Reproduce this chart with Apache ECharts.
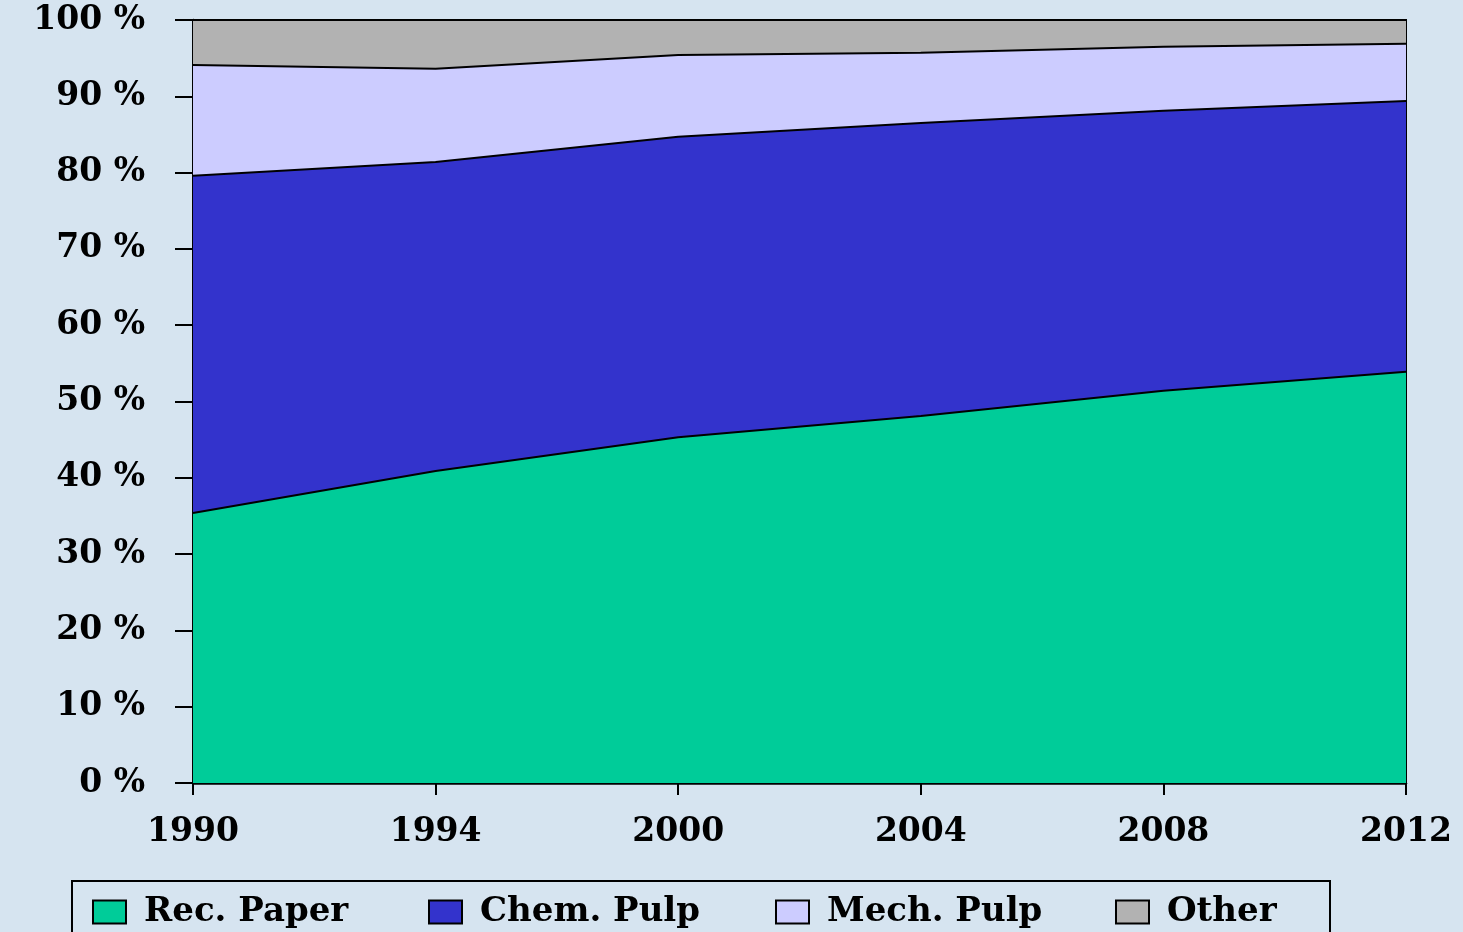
<!DOCTYPE html>
<html>
<head>
<meta charset="utf-8">
<script src="https://cdn.jsdelivr.net/npm/echarts@6/dist/echarts.min.js"></script>
<style>
  html, body { margin: 0; padding: 0; background: #d6e4f0; }
  #chart { width: 1463px; height: 932px; }
</style>
</head>
<body>
<div id="chart"></div>
<script>
// years on the x axis
var years = ['1990', '1994', '2000', '2004', '2008', '2012']
// share of each fibre source, in %
var recPaper = [35.4, 40.9, 45.3, 48.1, 51.4, 53.9]
var chemPulp = [44.2, 40.5, 39.4, 38.4, 36.7, 35.5]
var mechPulp = [14.5, 12.2, 10.7, 9.2, 8.4, 7.5]
var other = [5.9, 6.4, 4.6, 4.3, 3.5, 3.1]
var names = ['Rec. Paper', 'Chem. Pulp', 'Mech. Pulp', 'Other']
var colors = ['#00cc99', '#3333cc', '#ccccff', '#b2b2b2']

var font = 'DejaVu Serif, serif'

function areaSeries(i, data) {
  return {
    name: names[i],
    type: 'line',
    stack: 'total',
    data: data,
    symbol: 'none',
    lineStyle: { color: '#000', width: 2 },
    areaStyle: { color: colors[i], opacity: 1 },
    itemStyle: { color: colors[i], borderColor: '#000', borderWidth: 1.5 }
  }
}

// one legend per entry so each sits where the original puts it
var legendLeft = [92, 428, 775, 1115]
var legends = names.map(function (n, i) {
  return {
    left: legendLeft[i],
    top: 895,
    padding: 0,
    itemWidth: 33,
    itemHeight: 23,
    icon: 'rect',
    textStyle: {
      fontFamily: font, fontWeight: 'bold', fontSize: 34, color: '#000',
      padding: [4, 0, 0, 13]
    },
    data: [n]
  }
})

var chart = echarts.init(document.getElementById('chart'))
chart.setOption({
  backgroundColor: '#d6e4f0',
  animation: false,
  grid: {
    left: 193,
    right: 57,
    top: 20,
    bottom: 149,
    show: true,
    borderColor: '#000',
    borderWidth: 2
  },
  legend: legends,
  graphic: [{
    type: 'rect',
    shape: { x: 72, y: 881, width: 1258, height: 70 },
    style: { fill: 'none', stroke: '#000', lineWidth: 2 }
  }],
  xAxis: {
    type: 'category',
    boundaryGap: false,
    data: years,
    axisLine: { lineStyle: { color: '#000', width: 2.5 } },
    axisTick: { length: 12, lineStyle: { color: '#000', width: 2 } },
    axisLabel: {
      margin: 33,
      fontFamily: font,
      fontWeight: 'bold',
      fontSize: 33,
      color: '#000'
    },
    splitLine: { show: false }
  },
  yAxis: {
    type: 'value',
    min: 0,
    max: 100,
    interval: 10,
    axisLine: { show: true, lineStyle: { color: '#000', width: 2.5 } },
    axisTick: { show: true, inside: false, length: 18, lineStyle: { color: '#000', width: 2 } },
    axisLabel: {
      margin: 48,
      fontFamily: font,
      fontWeight: 'bold',
      fontSize: 33,
      color: '#000',
      padding: [6, 0, 0, 0],
      formatter: function (v) { return v + ' %' }
    },
    splitLine: { show: false }
  },
  series: [
    areaSeries(0, recPaper),
    areaSeries(1, chemPulp),
    areaSeries(2, mechPulp),
    areaSeries(3, other)
  ]
})
</script>
</body>
</html>
